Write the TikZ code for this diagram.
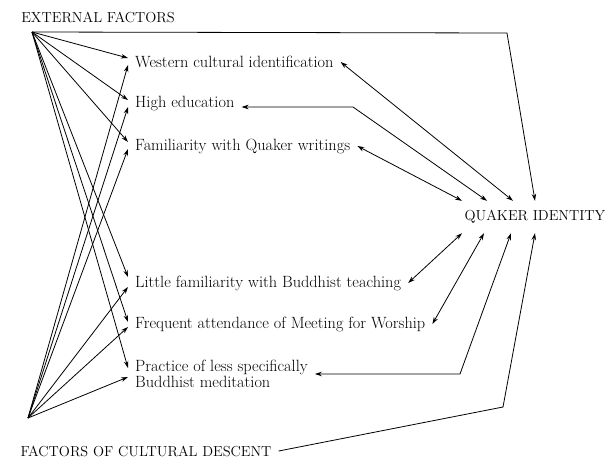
\documentclass[tikz,border=0pt]{standalone}
\usepackage{fontspec}
\usetikzlibrary{calc,arrows.meta}
\tikzstyle{factor} = [rectangle, anchor=west, align=left, inner xsep=7pt, inner ysep=0pt, font=\fontsize{16.3}{14.5}\selectfont]
\tikzstyle{heading} = [rectangle, inner xsep=7pt, inner ysep=0pt, font=\fontsize{14.5}{14.5}\selectfont]
\tikzstyle{arrow} = [thick,->,>={Stealth[length=7pt,width=4.5pt]}]
\tikzstyle{biarrow} = [thick,<->,>={Stealth[length=7pt,width=4.5pt]}]

\begin{document}
\begin{tikzpicture}[x=1pt,y=-1pt]
\useasboundingbox (0,0) rectangle (607,458);

\node (external) [heading] at (98,17) {EXTERNAL FACTORS};
\node (culture) [heading] at (146,451) {FACTORS OF CULTURAL DESCENT};
\node (quaker) [heading, minimum height=32pt] at (535,217) {QUAKER IDENTITY};
\coordinate (ext) at (32,32);
\coordinate (cult) at (28,418);

\node (western) [factor] at (128,62) {Western cultural identification};
\node (high) [factor] at (128,104) {High education};
\node (familiar) [factor] at (128,146) {Familiarity with Quaker writings};
\node (little) [factor] at (128,283) {Little familiarity with Buddhist teaching};
\node (frequent) [factor] at (128,324) {Frequent attendance of Meeting for Worship};
\node (practice) [factor] at (128,374) {Practice of less specifically\\Buddhist meditation};

% external factors
\draw [arrow] (ext) -- ([yshift=4pt]western.west);
\draw [arrow] (ext) -- ([yshift=4pt]high.west);
\draw [arrow] (ext) -- ([yshift=4pt]familiar.west);
\draw [arrow] (ext) -- ([yshift=6pt]little.west);
\draw [arrow] (ext) -- ([yshift=2pt]frequent.west);
\draw [arrow] (ext) -- ([yshift=6pt]practice.west);
\draw [arrow] (ext) -- (507,33) -- (quaker.north);

% factors of cultural descent
\draw [arrow] (cult) -- ([yshift=-3pt]western.west);
\draw [arrow] (cult) -- ([yshift=-3pt]high.west);
\draw [arrow] (cult) -- ([yshift=-3pt]familiar.west);
\draw [arrow] (cult) -- ([yshift=-4pt]little.west);
\draw [arrow] (cult) -- ([yshift=-3pt]frequent.west);
\draw [arrow] (cult) -- ([yshift=-3pt]practice.west);
\draw [arrow] (culture.east) -- (503,407) -- (quaker.south);

% links with quaker identity
\draw [biarrow] (western.east) -- ([xshift=-22pt]quaker.north);
\draw [biarrow] ([yshift=-3pt]high.east) -- (353,107) -- ([xshift=-48pt]quaker.north);
\draw [biarrow] (familiar.east) -- ([xshift=-73pt]quaker.north);
\draw [biarrow] (little.east) -- ([xshift=-73pt]quaker.south);
\draw [biarrow] (frequent.east) -- ([xshift=-51pt]quaker.south);
\draw [biarrow] (practice.east) -- (460,374) -- ([xshift=-24pt]quaker.south);

\end{tikzpicture}
\end{document}
